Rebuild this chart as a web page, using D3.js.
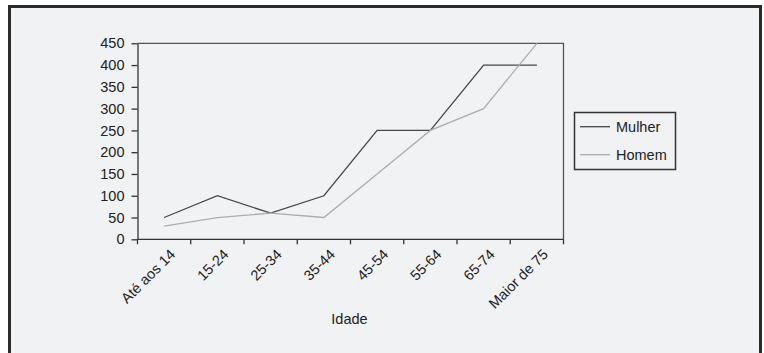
<!DOCTYPE html>
<html>
<head>
<meta charset="utf-8">
<script src="https://cdn.jsdelivr.net/npm/d3@7"></script>
<style>
  html, body { margin: 0; padding: 0; background: #ffffff; }
  svg { display: block; }
  text { font-family: "Liberation Sans", Arial, sans-serif; fill: #222; }
</style>
</head>
<body>
<svg id="chart" width="764" height="353"></svg>
<script>
// Age groups on the x axis
const categories = ["Até aos 14", "15-24", "25-34", "35-44", "45-54", "55-64", "65-74", "Maior de 75"];
// Values per age group
const mulher = [50, 100, 60, 100, 250, 250, 400, 400];
const homem  = [30, 50, 60, 50, 150, 250, 300, 450];
const yTicks = [0, 50, 100, 150, 200, 250, 300, 350, 400, 450];
const seriesNames = ["Mulher", "Homem"];
const seriesColors = ["#474747", "#adadad"];
const xTitle = "Idade";

const FONT = "14.5px";
const svg = d3.select("#chart");

// Outer frame
svg.append("rect")
  .attr("x", 9.5).attr("y", 6.5)
  .attr("width", 751).attr("height", 360)
  .attr("fill", "#f1f2f4")
  .attr("stroke", "#2b2b2b")
  .attr("stroke-width", 3);

const plot = { left: 137.5, right: 563.5, top: 43.3, bottom: 239.3 };

const x = d3.scaleBand().domain(categories).range([plot.left, plot.right]);
const y = d3.scaleLinear().domain([0, 450]).range([plot.bottom, plot.top]);

// Plot border (top and right)
svg.append("path")
  .attr("d", `M${plot.left},${plot.top}H${plot.right}V${plot.bottom}`)
  .attr("fill", "none")
  .attr("stroke", "#555")
  .attr("stroke-width", 1.3);

// Y axis
const yAxis = svg.append("g")
  .attr("transform", `translate(${plot.left},0)`)
  .call(d3.axisLeft(y).tickValues(yTicks).tickSize(6).tickPadding(7).tickSizeOuter(0));
yAxis.select(".domain").attr("stroke", "#333").attr("stroke-width", 1.3);
yAxis.selectAll(".tick line").attr("stroke", "#333").attr("stroke-width", 1.3);
yAxis.selectAll(".tick text")
  .style("font-family", "Liberation Sans, Arial, sans-serif")
  .style("font-size", FONT)
  .attr("fill", "#222");

// X axis: ticks at band boundaries
const bounds = categories.map(c => x(c)).concat([plot.right]);
const xAxisG = svg.append("g");
xAxisG.append("line")
  .attr("x1", plot.left).attr("x2", plot.right)
  .attr("y1", plot.bottom).attr("y2", plot.bottom)
  .attr("stroke", "#333").attr("stroke-width", 1.3);
xAxisG.selectAll("line.tick")
  .data(bounds)
  .join("line")
  .attr("class", "tick")
  .attr("x1", d => d).attr("x2", d => d)
  .attr("y1", plot.bottom).attr("y2", plot.bottom + 5)
  .attr("stroke", "#333").attr("stroke-width", 1.3);
xAxisG.selectAll("text")
  .data(categories)
  .join("text")
  .attr("transform", d => `translate(${x(d) + x.bandwidth() / 2 + 12},${plot.bottom + 16}) rotate(-45)`)
  .attr("text-anchor", "end")
  .style("font-size", FONT)
  .text(d => d);

// X axis title
svg.append("text")
  .attr("x", (plot.left + plot.right) / 2 - 1)
  .attr("y", 324)
  .attr("text-anchor", "middle")
  .style("font-size", FONT)
  .text(xTitle);

// Series lines
const line = d3.line()
  .x((d, i) => x(categories[i]) + x.bandwidth() / 2)
  .y(d => y(d));

[mulher, homem].forEach((vals, k) => {
  svg.append("path")
    .datum(vals)
    .attr("d", line)
    .attr("fill", "none")
    .attr("stroke", seriesColors[k])
    .attr("stroke-width", 1.3);
});

// Legend
const legend = svg.append("g");
legend.append("rect")
  .attr("x", 574.5).attr("y", 112.5)
  .attr("width", 101).attr("height", 57)
  .attr("fill", "none")
  .attr("stroke", "#333")
  .attr("stroke-width", 1.5);
seriesNames.forEach((name, k) => {
  const ly = 126.7 + k * 28;
  legend.append("line")
    .attr("x1", 580).attr("x2", 610)
    .attr("y1", ly).attr("y2", ly)
    .attr("stroke", seriesColors[k])
    .attr("stroke-width", 1.3);
  legend.append("text")
    .attr("x", 616).attr("y", ly)
    .attr("dy", "0.35em")
    .style("font-size", FONT)
    .text(name);
});
</script>
</body>
</html>
